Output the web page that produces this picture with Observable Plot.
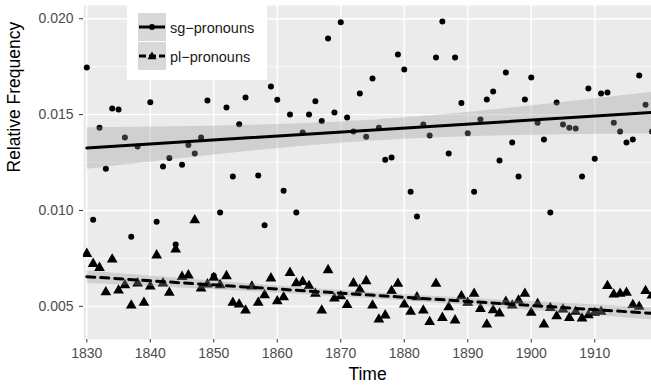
<!DOCTYPE html>
<html><head><meta charset="utf-8">
<script src="https://cdn.jsdelivr.net/npm/d3@7"></script>
<script src="https://cdn.jsdelivr.net/npm/@observablehq/plot@0.6"></script>
<style>
body{margin:0;background:#fff;font-family:"Liberation Sans",Arial,sans-serif;}
#wrap{position:relative;width:651px;height:386px;overflow:hidden;}
#legend{position:absolute;left:127px;top:5px;width:140px;height:75px;background:#fff;}
.key{position:absolute;left:11px;width:28px;height:28px;background:#D9D9D9;}
.lab{position:absolute;left:43px;font-size:14.5px;color:#1a1a1a;line-height:16px;white-space:nowrap;}
</style></head><body><div id="wrap"></div>
<script>
const years = d3.range(1830, 1920);
// 1839 and 1856 sg values sit under the legend box; estimated
const sgValues = [
  0.01746,0.00952,0.01432,0.01218,0.01532,0.01526,0.01380,0.00863,0.01333,0.01850,
  0.01565,0.00941,0.01229,0.01273,0.00823,0.01239,0.01342,0.01297,0.01380,0.01573,
  0.00660,0.00989,0.01537,0.01177,0.01450,0.01589,0.01850,0.01182,0.00923,0.01646,
  0.01577,0.01103,0.01500,0.00989,0.01406,0.01500,0.01570,0.01466,0.01897,0.01511,
  0.01981,0.01485,0.01412,0.01610,0.01385,0.01688,0.01432,0.01264,0.01276,0.01814,
  0.01735,0.01098,0.00968,0.01448,0.01391,0.01798,0.01986,0.01297,0.01798,0.01560,
  0.01403,0.01098,0.01474,0.01579,0.01620,0.01260,0.01720,0.01354,0.01177,0.01579,
  0.01693,0.01458,0.01370,0.00989,0.01563,0.01448,0.01432,0.01427,0.01177,0.01636,
  0.01270,0.01610,0.01615,0.01458,0.01412,0.01354,0.01370,0.01704,0.01552,0.01412
];
const plValues = [
  0.00774,0.00722,0.00701,0.00574,0.00745,0.00583,0.00611,0.00505,0.00620,0.00519,
  0.00604,0.00766,0.00620,0.00571,0.00797,0.00654,0.00662,0.00949,0.00594,0.00615,
  0.00649,0.00611,0.00658,0.00519,0.00510,0.00479,0.00604,0.00519,0.00559,0.00646,
  0.00527,0.00548,0.00675,0.00621,0.00628,0.00606,0.00566,0.00479,0.00689,0.00541,
  0.00553,0.00507,0.00620,0.00587,0.00632,0.00505,0.00432,0.00453,0.00580,0.00618,
  0.00510,0.00472,0.00548,0.00479,0.00419,0.00618,0.00440,0.00496,0.00427,0.00553,
  0.00519,0.00566,0.00487,0.00406,0.00480,0.00463,0.00524,0.00505,0.00531,0.00566,
  0.00467,0.00513,0.00406,0.00492,0.00449,0.00484,0.00440,0.00472,0.00437,0.00454,
  0.00467,0.00472,0.00606,0.00562,0.00566,0.00571,0.00507,0.00498,0.00580,0.00557
];
const seriesNames = ["sg\u2212pronouns", "pl\u2212pronouns"];
const xTicks = [1830, 1840, 1850, 1860, 1870, 1880, 1890, 1900, 1910];
const yTicks = [0.005, 0.010, 0.015, 0.020];
const yMinor = [0.0075, 0.0125, 0.0175];
const xTitle = "Time";
const yTitle = "Relative Frequency";

const sg = years.map((t, i) => ({year: t, value: sgValues[i]})).filter(d => d.value != null);
const pl = years.map((t, i) => ({year: t, value: plValues[i]})).filter(d => d.value != null);

const font = '"Liberation Sans", Arial, sans-serif';
const chart = Plot.plot({
  width: 651, height: 386,
  marginLeft: 83, marginRight: 0, marginTop: 5, marginBottom: 47,
  x: {domain: [1829.48, 1918.94]},
  y: {domain: [0.00327, 0.02069]},
  style: {fontFamily: font, background: "transparent", overflow: "visible"},
  marks: [
    Plot.frame({fill: "#EBEBEB", stroke: null}),
    Plot.ruleY(yMinor, {stroke: "white", strokeWidth: 0.7}),
    Plot.ruleY(yTicks, {stroke: "white", strokeWidth: 1.4}),
    Plot.ruleX(xTicks, {stroke: "white", strokeWidth: 1.4}),
    Plot.axisX(xTicks, {tickSize: 3.5, tickPadding: 5.5, tickFormat: d => String(d), fontSize: 14, fill: "#4D4D4D", stroke: "#333333", label: null}),
    Plot.axisY(yTicks, {tickSize: 4, tickPadding: 6, tickFormat: d3.format(".3f"), fontSize: 14, fill: "#4D4D4D", stroke: "#333333", label: null}),
    Plot.dot(sg, {x: "year", y: "value", r: 3, fill: "black", stroke: null, clip: true}),
    Plot.dot(pl, {x: "year", y: "value", r: 4, symbol: "triangle", fill: "black", stroke: null, clip: true}),
    Plot.linearRegressionY(sg, {x: "year", y: "value", stroke: "black", strokeWidth: 3, fill: "#999", fillOpacity: 0.32, ci: 0.95, clip: true}),
    Plot.linearRegressionY(pl, {x: "year", y: "value", stroke: "black", strokeWidth: 3, strokeDasharray: "8,6", fill: "#999", fillOpacity: 0.32, ci: 0.95, clip: true}),
    Plot.text([xTitle], {frameAnchor: "bottom", dy: 40, fontSize: 17.5, fill: "black"}),
    Plot.text([yTitle], {frameAnchor: "left", dx: -69, rotate: -90, fontSize: 17.5, fill: "black"})
  ]
});
const wrap = document.getElementById("wrap");
wrap.appendChild(chart);

const legend = document.createElement("div");
legend.id = "legend";
const keySvg = (dashed, tri) => `<svg width="28" height="28" style="display:block">
  <line x1="1" x2="27" y1="14" y2="14" stroke="black" stroke-width="3" ${dashed ? 'stroke-dasharray="7,3"' : ''}/>
  ${tri ? '<path d="M14,9.5 L18.5,17.3 L9.5,17.3 Z" fill="black"/>' : '<circle cx="14" cy="14" r="3" fill="black"/>'}
</svg>`;
legend.innerHTML = `
  <div class="key" style="top:8px">${keySvg(false, false)}</div>
  <div class="lab" style="top:15px">${seriesNames[0]}</div>
  <div class="key" style="top:37px">${keySvg(true, true)}</div>
  <div class="lab" style="top:44px">${seriesNames[1]}</div>`;
wrap.appendChild(legend);
</script>
</body></html>
